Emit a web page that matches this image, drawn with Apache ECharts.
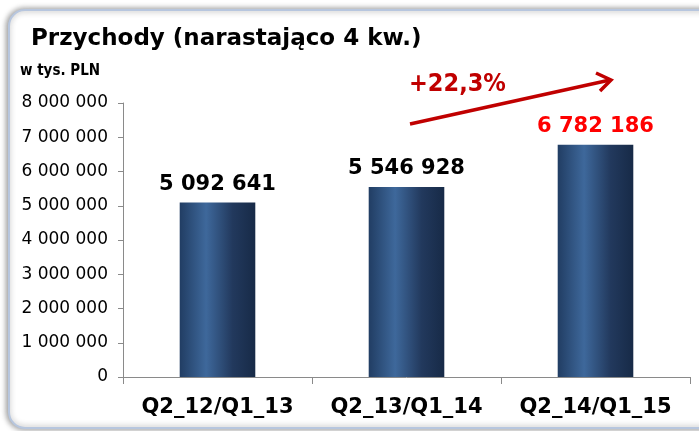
<!DOCTYPE html>
<html>
<head>
<meta charset="utf-8">
<script src="https://cdn.jsdelivr.net/npm/echarts@6/dist/echarts.min.js"></script>
<style>
  html, body { margin: 0; padding: 0; background: #ffffff; }
  #main { width: 699px; height: 431px; }
</style>
</head>
<body>
<div id="main"></div>
<script>
// dane
const categories = ["Q2_12/Q1_13", "Q2_13/Q1_14", "Q2_14/Q1_15"];
const revenue = [5092641, 5546928, 6782186];
const labelColors = ["#000000", "#000000", "#ff0000"];
const yTicks = [0, 1000000, 2000000, 3000000, 4000000, 5000000, 6000000, 7000000, 8000000];
const growthText = "+22,3%";

const fmt = (v) => String(v).replace(/\B(?=(\d{3})+(?!\d))/g, " ");

const myChart = echarts.init(document.getElementById("main"), null, { renderer: "canvas" });

const barGradient = new echarts.graphic.LinearGradient(0, 0, 1, 0, [
  { offset: 0, color: "#213d63" },
  { offset: 0.35, color: "#3e689b" },
  { offset: 0.7, color: "#22395d" },
  { offset: 1, color: "#172a47" },
]);

const option = {
  animation: false,
  grid: { left: 123, right: 9, top: 103, bottom: 54, containLabel: false },
  title: {
    text: "Przychody (narastająco 4 kw.)",
    left: 26,
    top: 23,
    textStyle: { fontFamily: "DejaVu Sans", fontWeight: "bold", fontSize: 23, color: "#000" },
  },
  graphic: [
    // ramka
    {
      type: "rect",
      z: -10,
      shape: { x: 9, y: 10, width: 720, height: 418, r: 16 },
      style: {
        fill: "#ffffff",
        stroke: "#b7c6de",
        lineWidth: 2,
        shadowBlur: 6,
        shadowColor: "rgba(0,0,0,0.45)",
        shadowOffsetX: -1,
        shadowOffsetY: 0,
      },
    },
    {
      type: "text",
      left: 20,
      top: 64,
      style: { text: "w tys. PLN", font: "bold 15px 'DejaVu Sans Condensed'", fill: "#000" },
    },
    // strzałka wzrostu
    {
      type: "polyline",
      shape: { points: [[410, 124], [610, 80]] },
      style: { stroke: "#c00000", lineWidth: 3.5 },
    },
    {
      type: "polyline",
      shape: { points: [[596, 73], [611, 80], [600, 91]] },
      style: { stroke: "#c00000", lineWidth: 3.5, fill: null },
    },
    {
      type: "text",
      left: 409,
      top: 72,
      style: { text: growthText, font: "bold 25px 'DejaVu Sans Condensed'", fill: "#c00000" },
    },
  ],
  xAxis: {
    type: "category",
    data: categories,
    axisLine: { lineStyle: { color: "#8a8a8a", width: 1 } },
    axisTick: { show: true, alignWithLabel: false, length: 7, lineStyle: { color: "#8a8a8a" } },
    axisLabel: {
      interval: 0,
      hideOverlap: false,
      margin: 20,
      fontFamily: "DejaVu Sans",
      fontWeight: "bold",
      fontSize: 21,
      color: "#000",
    },
  },
  yAxis: {
    type: "value",
    min: 0,
    max: 8000000,
    interval: 1000000,
    splitLine: { show: false },
    axisLine: { show: true, lineStyle: { color: "#8a8a8a", width: 1 } },
    axisTick: { show: true, length: 5, lineStyle: { color: "#8a8a8a" } },
    axisLabel: {
      margin: 15,
      fontFamily: "DejaVu Sans",
      fontSize: 17,
      color: "#000",
      formatter: (v) => fmt(v),
    },
  },
  series: [
    {
      type: "bar",
      barWidth: "40%",
      data: revenue.map((v, i) => ({
        value: v,
        label: { color: labelColors[i] },
      })),
      itemStyle: { color: barGradient },
      label: {
        show: true,
        position: "top",
        distance: 8,
        fontFamily: "DejaVu Sans",
        fontWeight: "bold",
        fontSize: 21,
        formatter: (p) => fmt(p.value),
      },
    },
  ],
};

option && myChart.setOption(option);
</script>
</body>
</html>
